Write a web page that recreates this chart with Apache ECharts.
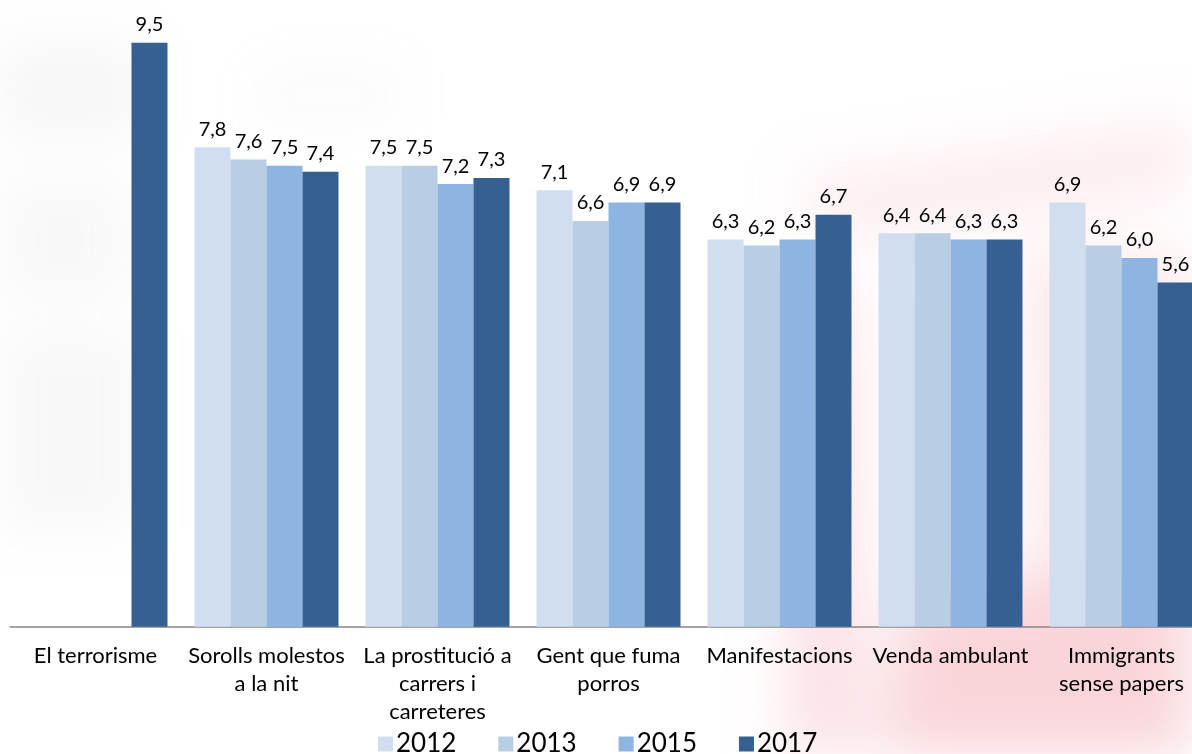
<!DOCTYPE html>
<html>
<head>
<meta charset="utf-8">
<script src="https://cdn.jsdelivr.net/npm/echarts@6/dist/echarts.min.js"></script>
<style>
html,body{margin:0;padding:0;background:#fff;overflow:hidden;}
#wrap{position:relative;width:1192px;height:754px;overflow:hidden;background:#fff;}
#bg{position:absolute;left:0;top:0;}
#chart{position:absolute;left:0;top:0;width:1210px;height:754px;}
</style>
</head>
<body>
<div id="wrap">
<svg id="bg" width="1192" height="754" xmlns="http://www.w3.org/2000/svg">
  <defs>
    <filter id="b1" x="-50%" y="-50%" width="200%" height="200%"><feGaussianBlur stdDeviation="28"/></filter>
    <filter id="b2" x="-50%" y="-50%" width="200%" height="200%"><feGaussianBlur stdDeviation="24"/></filter>
  </defs>
  <g filter="url(#b1)">
    <polygon points="790,180 1192,120 1192,190 840,240" fill="rgba(244,180,190,0.25)"/>
    <polygon points="795,280 850,280 870,754 785,754" fill="rgba(244,180,190,0.40)"/>
    <polygon points="900,600 1192,560 1192,754 880,754" fill="rgba(244,178,188,0.55)"/>
    <polygon points="1020,250 1192,250 1192,540 1030,600" fill="rgba(244,185,195,0.30)"/>
    <polygon points="920,300 980,320 990,560 930,590" fill="rgba(244,190,198,0.18)"/>
  </g>
  <g filter="url(#b2)">
    <rect x="0" y="40" width="140" height="100" fill="rgba(190,190,190,0.12)"/>
    <rect x="0" y="180" width="130" height="120" fill="rgba(190,190,190,0.10)"/>
    <rect x="0" y="330" width="140" height="200" fill="rgba(190,190,190,0.10)"/>
    <rect x="260" y="70" width="140" height="50" fill="rgba(200,200,200,0.08)"/>
  </g>
</svg>
<div id="chart"></div>
</div>
<script>
const categories = ["El terrorisme","Sorolls molestos\na la nit","La prostitució a\ncarrers i\ncarreteres","Gent que fuma\nporros","Manifestacions","Venda ambulant","Immigrants\nsense papers"];
const years = ["2012","2013","2015","2017"];
const v2012 = [null,7.8,7.5,7.1,6.3,6.4,6.9];
const v2013 = [null,7.6,7.5,6.6,6.2,6.4,6.2];
const v2015 = [null,7.5,7.2,6.9,6.3,6.3,6.0];
const v2017 = [9.5,7.4,7.3,6.9,6.7,6.3,5.6];
const colors = ["#D0DEF0","#B9CDE5","#8EB4E2","#366092"];

const font = "Lato, 'Open Sans', sans-serif";
const chart = echarts.init(document.getElementById('chart'), null, {renderer:'canvas'});
const mk = (name, data, color) => ({
  name, type:'bar', data, barGap:'0%', barCategoryGap:'15.8%',
  itemStyle:{color},
  label:{show:true, position:'top', distance:8, color:'#000', fontFamily:font, fontSize:20,
    formatter:p => p.value == null ? '' : p.value.toFixed(1).replace('.',',')}
});
chart.setOption({
  animation:false,
  backgroundColor:'transparent',
  color:colors,
  grid:{left:10, top:12, right:3, bottom:127.3, containLabel:false},
  legend:{data:years, left:378, top:731, itemWidth:15, itemHeight:15, itemGap:42, padding:0,
    icon:'rect', textStyle:{fontFamily:font, fontSize:26, color:'#000', padding:[0,0,0,-2]}},
  xAxis:{type:'category', data:categories,
    axisLine:{lineStyle:{color:'#868686', width:1.5}},
    axisTick:{length:6, lineStyle:{color:'#868686', width:1.5}},
    axisLabel:{interval:0, color:'#000', fontFamily:font, fontSize:22, lineHeight:28, margin:15}},
  yAxis:{type:'value', min:0, max:10, show:false, splitLine:{show:false}},
  series:[mk(years[0],v2012,colors[0]),mk(years[1],v2013,colors[1]),mk(years[2],v2015,colors[2]),mk(years[3],v2017,colors[3])]
});
</script>
</body>
</html>
